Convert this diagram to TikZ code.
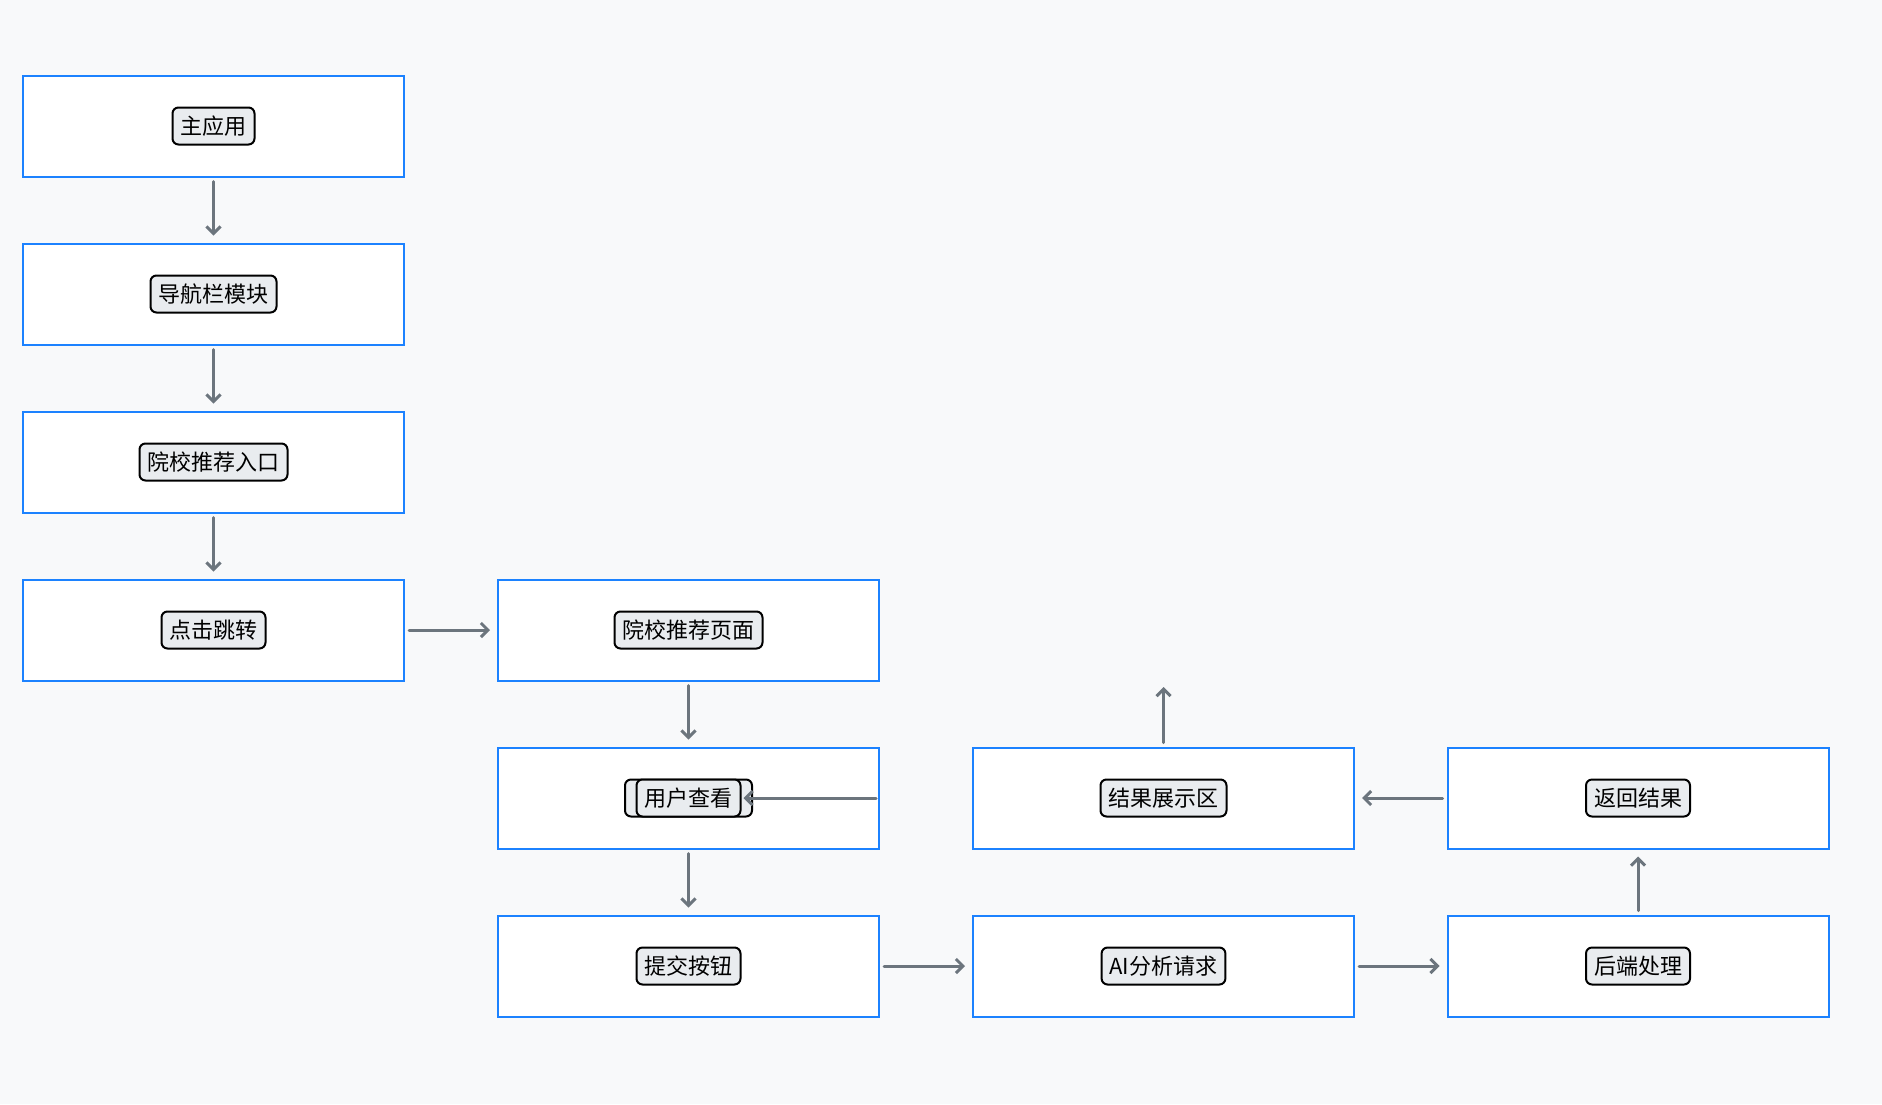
\documentclass[tikz,border=0pt]{standalone}
\usepackage{fontspec}
\setmainfont{Noto Sans CJK SC}
\usetikzlibrary{arrows.meta}
\definecolor{bg}{HTML}{F8F9FA}
\definecolor{boxblue}{HTML}{1C82FF}
\definecolor{arrgray}{HTML}{6C757D}
\definecolor{labfill}{HTML}{E9ECEF}
\tikzset{
  stepbox/.style={draw=boxblue, line width=2pt, fill=white, minimum width=381pt, minimum height=101pt, inner sep=0pt},
  lab/.style={draw=black, line width=2pt, fill=labfill, rounded corners=6pt, minimum height=37pt, inner xsep=8pt, inner ysep=0pt, font=\fontsize{22pt}{25pt}\selectfont, text=black},
  arr/.style={draw=arrgray, line width=3pt, line cap=round, -{Straight Barb[length=7pt,width=14pt,line width=3pt]}}
}
\begin{document}
\begin{tikzpicture}[x=1pt,y=-1pt]
\useasboundingbox[fill=bg] (0,0) rectangle (1882,1104);
% boxes
\node[stepbox] (b1) at (213.5,126) {};
\node[stepbox] (b2) at (213.5,294) {};
\node[stepbox] (b3) at (213.5,462) {};
\node[stepbox] (b4) at (213.5,630) {};
\node[stepbox] (p1) at (688.5,630) {};
\node[stepbox] (p2) at (688.5,798) {};
\node[stepbox] (p3) at (688.5,966) {};
\node[stepbox] (r1) at (1163.5,798) {};
\node[stepbox] (a1) at (1163.5,966) {};
\node[stepbox] (q1) at (1638,798) {};
\node[stepbox] (q2) at (1638,966) {};
% labels
\node[lab] (l1) at (b1) {主应用};
\node[lab] (l2) at (b2) {导航栏模块};
\node[lab] (l3) at (b3) {院校推荐入口};
\node[lab] (l4) at (b4) {点击跳转};
\node[lab] (lp1) at (p1) {院校推荐页面};
\node[lab, minimum width=127pt] (lp2b) at (688.5,798) {};
\node[lab] (lp2) at (688.5,798) {用户查看};
\node[lab] (lp3) at (p3) {提交按钮};
\node[lab] (lr1) at (r1) {结果展示区};
\node[lab] (la1) at (a1) {AI分析请求};
\node[lab] (lq1) at (q1) {返回结果};
\node[lab] (lq2) at (q2) {后端处理};
\coordinate (up) at (1163.5,687);
% connectors
\draw[arr] ([yshift=-4pt]b1.south) -- ([yshift=7pt]b2.north);
\draw[arr] ([yshift=-4pt]b2.south) -- ([yshift=7pt]b3.north);
\draw[arr] ([yshift=-4pt]b3.south) -- ([yshift=7pt]b4.north);
\draw[arr] ([xshift=4pt]b4.east) -- ([xshift=-7pt]p1.west);
\draw[arr] ([yshift=-4pt]p1.south) -- ([yshift=7pt]p2.north);
\draw[arr] ([yshift=-4pt]p2.south) -- ([yshift=7pt]p3.north);
\draw[arr] ([xshift=4pt]p3.east) -- ([xshift=-7pt]a1.west);
\draw[arr] ([xshift=4pt]a1.east) -- ([xshift=-7pt]q2.west);
\draw[arr] ([yshift=4pt]q2.north) -- ([yshift=-7pt]q1.south);
\draw[arr] ([xshift=-4pt]q1.west) -- ([xshift=7pt]r1.east);
\draw[arr] ([yshift=4pt]r1.north) -- (up);
\draw[arr] ([xshift=-4pt]p2.east) -- ([xshift=2pt]lp2.east);
\end{tikzpicture}
\end{document}
